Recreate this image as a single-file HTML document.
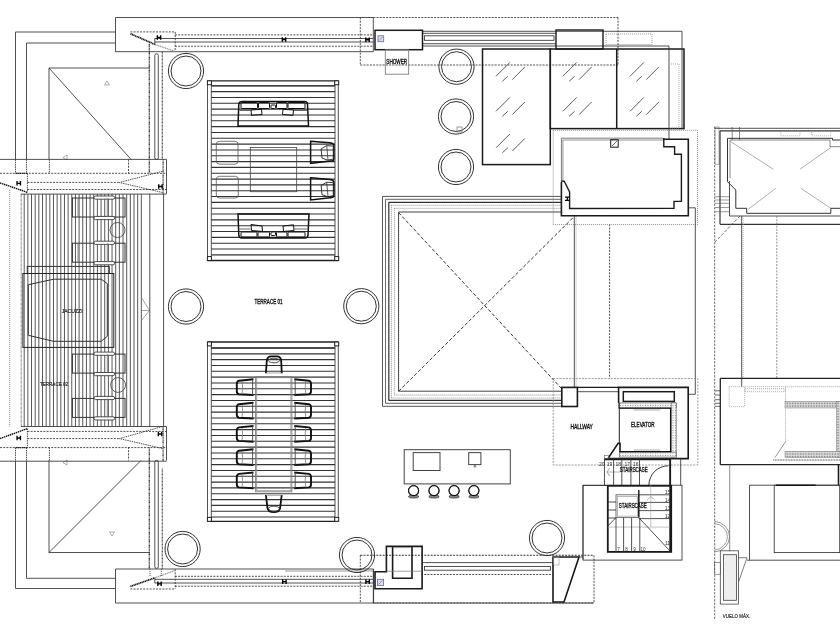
<!DOCTYPE html>
<html><head><meta charset="utf-8"><style>
html,body{margin:0;padding:0;background:#fff;}
svg{display:block;will-change:transform;}
text{font-family:"Liberation Sans",sans-serif;}
</style></head><body>
<svg width="840" height="630" viewBox="0 0 840 630">
<rect x="0" y="0" width="840" height="630" fill="#fff"/>
<polyline points="115.50,32.00 15.50,32.00 15.50,159.40" stroke="#333" stroke-width="0.85" fill="none" stroke-linejoin="miter"/>
<polyline points="115.50,43.00 26.50,43.00 26.50,159.40" stroke="#333" stroke-width="0.85" fill="none" stroke-linejoin="miter"/>
<polyline points="15.50,461.20 15.50,588.50 115.50,588.50" stroke="#333" stroke-width="0.85" fill="none" stroke-linejoin="miter"/>
<polyline points="26.50,461.20 26.50,578.30 115.50,578.30" stroke="#333" stroke-width="0.85" fill="none" stroke-linejoin="miter"/>
<line x1="115.50" y1="17.50" x2="373.30" y2="17.50" stroke="#333" stroke-width="0.85" />
<line x1="115.50" y1="51.70" x2="373.30" y2="51.70" stroke="#333" stroke-width="0.85" />
<line x1="115.50" y1="17.50" x2="115.50" y2="51.70" stroke="#333" stroke-width="0.85" />
<line x1="373.30" y1="17.50" x2="373.30" y2="51.70" stroke="#333" stroke-width="0.85" />
<line x1="373.30" y1="17.50" x2="618.00" y2="17.50" stroke="#333" stroke-width="0.85" stroke-dasharray="2,1.2" />
<line x1="360.30" y1="17.50" x2="360.30" y2="65.00" stroke="#333" stroke-width="0.85" stroke-dasharray="2,1.2" />
<line x1="360.30" y1="65.00" x2="618.00" y2="65.00" stroke="#333" stroke-width="0.85" stroke-dasharray="2,1.2" />
<line x1="618.00" y1="17.50" x2="618.00" y2="65.00" stroke="#333" stroke-width="0.85" stroke-dasharray="2,1.2" />
<line x1="175.00" y1="34.90" x2="373.00" y2="34.90" stroke="#333" stroke-width="0.85" stroke-dasharray="2,1.2" />
<line x1="154.80" y1="38.50" x2="373.00" y2="38.50" stroke="#333" stroke-width="0.85" />
<line x1="154.80" y1="42.00" x2="373.00" y2="42.00" stroke="#333" stroke-width="0.85" />
<line x1="175.00" y1="46.20" x2="373.00" y2="46.20" stroke="#333" stroke-width="0.85" stroke-dasharray="2,1.2" />
<line x1="130.40" y1="31.90" x2="175.20" y2="31.90" stroke="#333" stroke-width="0.85" stroke-dasharray="2,1.2" />
<line x1="175.20" y1="31.90" x2="175.20" y2="51.50" stroke="#333" stroke-width="0.85" stroke-dasharray="2,1.2" />
<line x1="130.40" y1="33.70" x2="154.80" y2="44.40" stroke="#111" stroke-width="1.7" stroke-dasharray="1.2,0.5" />
<line x1="154.80" y1="44.40" x2="175.20" y2="51.50" stroke="#999" stroke-width="1.4" stroke-dasharray="1.2,0.6" />
<line x1="154.80" y1="38.50" x2="154.80" y2="44.40" stroke="#333" stroke-width="0.85" />
<path d="M157.3,35.2 V39.8 M160.7,35.2 V39.8 M157.3,37.5 H160.7" stroke="#000" stroke-width="1.35" fill="none"/>
<path d="M282.3,37.2 V41.8 M285.7,37.2 V41.8 M282.3,39.5 H285.7" stroke="#000" stroke-width="1.35" fill="none"/>
<path d="M365.8,37.400000000000006 V42.0 M369.2,37.400000000000006 V42.0 M365.8,39.7 H369.2" stroke="#000" stroke-width="1.35" fill="none"/>
<line x1="115.50" y1="569.00" x2="373.30" y2="569.00" stroke="#333" stroke-width="0.85" />
<line x1="115.50" y1="603.00" x2="594.00" y2="603.00" stroke="#333" stroke-width="0.85" />
<line x1="115.50" y1="569.00" x2="115.50" y2="603.00" stroke="#333" stroke-width="0.85" />
<line x1="373.30" y1="569.00" x2="373.30" y2="603.00" stroke="#333" stroke-width="0.85" />
<line x1="285.00" y1="571.00" x2="373.00" y2="571.00" stroke="#888" stroke-width="0.85" />
<line x1="175.00" y1="576.30" x2="373.00" y2="576.30" stroke="#333" stroke-width="0.85" stroke-dasharray="2,1.2" />
<line x1="154.80" y1="579.30" x2="373.00" y2="579.30" stroke="#333" stroke-width="0.85" />
<line x1="154.80" y1="583.00" x2="373.00" y2="583.00" stroke="#333" stroke-width="0.85" />
<line x1="175.00" y1="586.20" x2="373.00" y2="586.20" stroke="#333" stroke-width="0.85" stroke-dasharray="2,1.2" />
<line x1="130.40" y1="589.00" x2="175.20" y2="589.00" stroke="#333" stroke-width="0.85" stroke-dasharray="2,1.2" />
<line x1="175.20" y1="569.20" x2="175.20" y2="589.00" stroke="#333" stroke-width="0.85" stroke-dasharray="2,1.2" />
<line x1="130.40" y1="586.40" x2="154.80" y2="577.90" stroke="#111" stroke-width="1.7" stroke-dasharray="1.2,0.5" />
<line x1="154.80" y1="577.90" x2="175.20" y2="570.40" stroke="#999" stroke-width="1.4" stroke-dasharray="1.2,0.6" />
<line x1="154.80" y1="577.90" x2="154.80" y2="583.00" stroke="#333" stroke-width="0.85" />
<line x1="150.00" y1="569.00" x2="150.00" y2="577.00" stroke="#333" stroke-width="0.85" stroke-dasharray="1,1" />
<line x1="161.30" y1="569.00" x2="161.30" y2="577.00" stroke="#333" stroke-width="0.85" stroke-dasharray="1,1" />
<path d="M157.8,581.5 V586.0999999999999 M161.2,581.5 V586.0999999999999 M157.8,583.8 H161.2" stroke="#000" stroke-width="1.35" fill="none"/>
<path d="M282.7,579.3000000000001 V583.9 M286.09999999999997,579.3000000000001 V583.9 M282.7,581.6 H286.09999999999997" stroke="#000" stroke-width="1.35" fill="none"/>
<path d="M365.90000000000003,579.3000000000001 V583.9 M369.3,579.3000000000001 V583.9 M365.90000000000003,581.6 H369.3" stroke="#000" stroke-width="1.35" fill="none"/>
<line x1="360.30" y1="555.30" x2="594.00" y2="555.30" stroke="#333" stroke-width="1.1" stroke-dasharray="2,1.2" />
<line x1="360.30" y1="555.30" x2="360.30" y2="603.00" stroke="#333" stroke-width="0.85" stroke-dasharray="2,1.2" />
<line x1="594.00" y1="555.30" x2="594.00" y2="603.00" stroke="#333" stroke-width="0.85" stroke-dasharray="2,1.2" />
<line x1="373.30" y1="603.00" x2="594.00" y2="603.00" stroke="#333" stroke-width="0.85" stroke-dasharray="2,1.2" />
<line x1="149.30" y1="44.00" x2="149.30" y2="159.40" stroke="#333" stroke-width="1.3" stroke-dasharray="0.9,0.4" />
<line x1="162.30" y1="52.00" x2="162.30" y2="159.40" stroke="#444" stroke-width="1.2" stroke-dasharray="0.9,0.5" />
<line x1="149.30" y1="460.50" x2="149.30" y2="569.00" stroke="#333" stroke-width="1.3" stroke-dasharray="0.9,0.4" />
<line x1="162.30" y1="468.50" x2="162.30" y2="569.00" stroke="#444" stroke-width="1.2" stroke-dasharray="0.9,0.5" />
<rect x="154.8" y="53.9" width="3.5" height="105.5" rx="1.5" stroke="#333" stroke-width="0.85" fill="none"/>
<rect x="154.8" y="460.5" width="3.5" height="107.8" rx="1.5" stroke="#333" stroke-width="0.85" fill="none"/>
<polyline points="49.00,68.00 150.00,68.00" stroke="#333" stroke-width="0.85" fill="none" stroke-linejoin="miter"/>
<line x1="49.00" y1="68.00" x2="49.00" y2="159.40" stroke="#333" stroke-width="0.85" />
<line x1="49.00" y1="68.00" x2="131.00" y2="159.40" stroke="#333" stroke-width="0.85" />
<polygon points="104.50,85.00 109.50,85.00 107.00,81.00" stroke="#777" stroke-width="0.6" fill="none" stroke-linejoin="miter"/>
<line x1="49.00" y1="460.50" x2="49.00" y2="552.50" stroke="#333" stroke-width="0.85" />
<line x1="49.00" y1="552.50" x2="150.00" y2="552.50" stroke="#333" stroke-width="0.85" />
<line x1="49.00" y1="552.50" x2="141.00" y2="460.50" stroke="#333" stroke-width="0.85" />
<polygon points="109.50,532.00 114.50,532.00 112.00,536.00" stroke="#777" stroke-width="0.6" fill="none" stroke-linejoin="miter"/>
<polygon points="67.00,155.00 67.00,160.00 63.00,157.50" stroke="#777" stroke-width="0.6" fill="none" stroke-linejoin="miter"/>
<polygon points="67.00,460.00 67.00,465.00 63.00,462.50" stroke="#777" stroke-width="0.6" fill="none" stroke-linejoin="miter"/>
<line x1="0.00" y1="159.40" x2="166.50" y2="159.40" stroke="#333" stroke-width="0.85" />
<line x1="0.00" y1="173.30" x2="166.50" y2="173.30" stroke="#333" stroke-width="0.85" stroke-dasharray="2,1.2" />
<line x1="27.40" y1="182.40" x2="118.80" y2="182.40" stroke="#333" stroke-width="0.85" stroke-dasharray="2,1.2" />
<line x1="27.40" y1="189.50" x2="166.50" y2="189.50" stroke="#333" stroke-width="0.85" stroke-dasharray="2,1.2" />
<line x1="20.80" y1="194.10" x2="166.50" y2="194.10" stroke="#333" stroke-width="0.85" />
<line x1="27.40" y1="173.30" x2="27.40" y2="192.40" stroke="#333" stroke-width="0.85" stroke-dasharray="1.5,0.8" />
<line x1="0.00" y1="182.90" x2="27.40" y2="192.40" stroke="#111" stroke-width="1.4" stroke-dasharray="1.5,0.6" />
<line x1="15.50" y1="173.30" x2="27.40" y2="173.30" stroke="#222" stroke-width="1.2" stroke-dasharray="1.5,0.6" />
<polyline points="162.50,171.30 119.40,182.50 162.50,192.50" stroke="#333" stroke-width="0.85" fill="none" stroke-dasharray="1.5,0.8" stroke-linejoin="miter"/>
<line x1="149.30" y1="159.40" x2="149.30" y2="173.30" stroke="#333" stroke-width="1.3" stroke-dasharray="0.9,0.4" />
<line x1="163.10" y1="159.40" x2="163.10" y2="194.10" stroke="#444" stroke-width="1.3" stroke-dasharray="0.9,0.4" />
<line x1="166.50" y1="159.40" x2="166.50" y2="193.75" stroke="#333" stroke-width="0.85" />
<line x1="15.50" y1="159.40" x2="15.50" y2="173.30" stroke="#333" stroke-width="0.85" stroke-dasharray="1.5,0.8" />
<line x1="26.50" y1="159.40" x2="26.50" y2="173.30" stroke="#333" stroke-width="0.85" stroke-dasharray="1.5,0.8" />
<line x1="49.40" y1="159.40" x2="49.40" y2="173.30" stroke="#333" stroke-width="0.85" stroke-dasharray="1.5,0.8" />
<line x1="128.50" y1="159.40" x2="128.50" y2="173.30" stroke="#333" stroke-width="0.85" stroke-dasharray="2,1.2" />
<path d="M17.05,181.0 V185.60000000000002 M20.45,181.0 V185.60000000000002 M17.05,183.3 H20.45" stroke="#000" stroke-width="1.35" fill="none"/>
<path d="M158.70000000000002,184.2 V188.8 M162.1,184.2 V188.8 M158.70000000000002,186.5 H162.1" stroke="#000" stroke-width="1.35" fill="none"/>
<line x1="20.80" y1="426.50" x2="166.50" y2="426.50" stroke="#333" stroke-width="0.85" />
<line x1="27.40" y1="431.40" x2="166.50" y2="431.40" stroke="#333" stroke-width="0.85" stroke-dasharray="2,1.2" />
<line x1="27.40" y1="438.60" x2="118.80" y2="438.60" stroke="#333" stroke-width="0.85" stroke-dasharray="2,1.2" />
<line x1="0.00" y1="447.60" x2="166.50" y2="447.60" stroke="#333" stroke-width="0.85" stroke-dasharray="2,1.2" />
<line x1="0.00" y1="461.20" x2="166.50" y2="461.20" stroke="#333" stroke-width="0.85" />
<line x1="27.40" y1="428.60" x2="27.40" y2="447.60" stroke="#333" stroke-width="0.85" stroke-dasharray="1.5,0.8" />
<line x1="0.00" y1="438.60" x2="27.40" y2="428.60" stroke="#111" stroke-width="1.4" stroke-dasharray="1.5,0.6" />
<line x1="15.50" y1="447.60" x2="27.40" y2="447.60" stroke="#222" stroke-width="1.2" stroke-dasharray="1.5,0.6" />
<polyline points="162.50,426.50 119.40,438.60 162.50,448.50" stroke="#333" stroke-width="0.85" fill="none" stroke-dasharray="1.5,0.8" stroke-linejoin="miter"/>
<line x1="149.30" y1="447.60" x2="149.30" y2="461.20" stroke="#333" stroke-width="1.3" stroke-dasharray="0.9,0.4" />
<line x1="163.10" y1="426.50" x2="163.10" y2="461.20" stroke="#444" stroke-width="1.3" stroke-dasharray="0.9,0.4" />
<line x1="166.50" y1="426.50" x2="166.50" y2="460.50" stroke="#333" stroke-width="0.85" />
<line x1="15.50" y1="447.60" x2="15.50" y2="461.20" stroke="#333" stroke-width="0.85" stroke-dasharray="1.5,0.8" />
<line x1="26.50" y1="447.60" x2="26.50" y2="461.20" stroke="#333" stroke-width="0.85" stroke-dasharray="1.5,0.8" />
<line x1="49.40" y1="447.60" x2="49.40" y2="461.20" stroke="#333" stroke-width="0.85" stroke-dasharray="1.5,0.8" />
<line x1="128.50" y1="447.00" x2="128.50" y2="460.50" stroke="#333" stroke-width="0.85" stroke-dasharray="2,1.2" />
<path d="M17.05,435.7 V440.3 M20.45,435.7 V440.3 M17.05,438 H20.45" stroke="#000" stroke-width="1.35" fill="none"/>
<path d="M158.3,431.7 V436.3 M161.7,431.7 V436.3 M158.3,434 H161.7" stroke="#000" stroke-width="1.35" fill="none"/>
<line x1="9.70" y1="190.00" x2="9.70" y2="426.50" stroke="#777" stroke-width="0.85" stroke-dasharray="1,1" />
<line x1="21.20" y1="193.75" x2="21.20" y2="426.50" stroke="#666" stroke-width="1.0" stroke-dasharray="0.8,0.5" />
<line x1="24.20" y1="194.10" x2="24.20" y2="426.50" stroke="#3a3a3a" stroke-width="0.85" />
<line x1="27.86" y1="194.10" x2="27.86" y2="426.50" stroke="#3a3a3a" stroke-width="0.85" />
<line x1="31.52" y1="194.10" x2="31.52" y2="426.50" stroke="#3a3a3a" stroke-width="0.85" />
<line x1="35.18" y1="194.10" x2="35.18" y2="426.50" stroke="#3a3a3a" stroke-width="0.85" />
<line x1="38.84" y1="194.10" x2="38.84" y2="426.50" stroke="#3a3a3a" stroke-width="0.85" />
<line x1="42.50" y1="194.10" x2="42.50" y2="426.50" stroke="#3a3a3a" stroke-width="0.85" />
<line x1="46.16" y1="194.10" x2="46.16" y2="426.50" stroke="#3a3a3a" stroke-width="0.85" />
<line x1="49.82" y1="194.10" x2="49.82" y2="426.50" stroke="#3a3a3a" stroke-width="0.85" />
<line x1="53.48" y1="194.10" x2="53.48" y2="426.50" stroke="#3a3a3a" stroke-width="0.85" />
<line x1="57.14" y1="194.10" x2="57.14" y2="426.50" stroke="#3a3a3a" stroke-width="0.85" />
<line x1="60.80" y1="194.10" x2="60.80" y2="426.50" stroke="#3a3a3a" stroke-width="0.85" />
<line x1="64.46" y1="194.10" x2="64.46" y2="426.50" stroke="#3a3a3a" stroke-width="0.85" />
<line x1="68.12" y1="194.10" x2="68.12" y2="426.50" stroke="#3a3a3a" stroke-width="0.85" />
<line x1="71.78" y1="194.10" x2="71.78" y2="426.50" stroke="#3a3a3a" stroke-width="0.85" />
<line x1="75.44" y1="194.10" x2="75.44" y2="426.50" stroke="#3a3a3a" stroke-width="0.85" />
<line x1="79.10" y1="194.10" x2="79.10" y2="426.50" stroke="#3a3a3a" stroke-width="0.85" />
<line x1="82.76" y1="194.10" x2="82.76" y2="426.50" stroke="#3a3a3a" stroke-width="0.85" />
<line x1="86.42" y1="194.10" x2="86.42" y2="426.50" stroke="#3a3a3a" stroke-width="0.85" />
<line x1="90.08" y1="194.10" x2="90.08" y2="426.50" stroke="#3a3a3a" stroke-width="0.85" />
<line x1="93.74" y1="194.10" x2="93.74" y2="426.50" stroke="#3a3a3a" stroke-width="0.85" />
<line x1="97.40" y1="194.10" x2="97.40" y2="426.50" stroke="#3a3a3a" stroke-width="0.85" />
<line x1="101.06" y1="194.10" x2="101.06" y2="426.50" stroke="#3a3a3a" stroke-width="0.85" />
<line x1="104.72" y1="194.10" x2="104.72" y2="426.50" stroke="#3a3a3a" stroke-width="0.85" />
<line x1="108.38" y1="194.10" x2="108.38" y2="426.50" stroke="#3a3a3a" stroke-width="0.85" />
<line x1="112.04" y1="194.10" x2="112.04" y2="426.50" stroke="#3a3a3a" stroke-width="0.85" />
<line x1="115.70" y1="194.10" x2="115.70" y2="426.50" stroke="#3a3a3a" stroke-width="0.85" />
<line x1="119.36" y1="194.10" x2="119.36" y2="426.50" stroke="#3a3a3a" stroke-width="0.85" />
<line x1="123.02" y1="194.10" x2="123.02" y2="426.50" stroke="#3a3a3a" stroke-width="0.85" />
<line x1="126.68" y1="194.10" x2="126.68" y2="426.50" stroke="#3a3a3a" stroke-width="0.85" />
<line x1="130.34" y1="194.10" x2="130.34" y2="426.50" stroke="#3a3a3a" stroke-width="0.85" />
<line x1="134.00" y1="194.10" x2="134.00" y2="426.50" stroke="#3a3a3a" stroke-width="0.85" />
<line x1="137.66" y1="194.10" x2="137.66" y2="426.50" stroke="#3a3a3a" stroke-width="0.85" />
<line x1="141.32" y1="194.10" x2="141.32" y2="426.50" stroke="#3a3a3a" stroke-width="0.85" />
<line x1="149.80" y1="193.75" x2="149.80" y2="426.50" stroke="#333" stroke-width="0.85" />
<line x1="163.60" y1="193.75" x2="163.60" y2="426.50" stroke="#333" stroke-width="0.85" />
<polyline points="141.50,297.50 149.50,310.50 141.50,320.50" stroke="#666" stroke-width="0.6" fill="none" stroke-linejoin="miter"/>
<line x1="141.50" y1="310.50" x2="149.50" y2="310.50" stroke="#666" stroke-width="0.6" />
<rect x="72.40" y="198.00" width="52.60" height="19.00" stroke="#333" stroke-width="1.0" fill="none"/>
<rect x="94.00" y="196.00" width="20.60" height="3.20" stroke="#333" stroke-width="0.85" fill="#fff" rx="1.5"/>
<rect x="94.00" y="216.40" width="20.60" height="3.20" stroke="#333" stroke-width="0.85" fill="#fff" rx="1.5"/>
<line x1="78.00" y1="198.00" x2="78.00" y2="217.00" stroke="#777" stroke-width="0.85" />
<line x1="107.30" y1="198.00" x2="107.30" y2="217.00" stroke="#777" stroke-width="0.85" />
<rect x="72.40" y="243.20" width="52.60" height="19.00" stroke="#333" stroke-width="1.0" fill="none"/>
<rect x="94.00" y="241.20" width="20.60" height="3.20" stroke="#333" stroke-width="0.85" fill="#fff" rx="1.5"/>
<rect x="94.00" y="261.60" width="20.60" height="3.20" stroke="#333" stroke-width="0.85" fill="#fff" rx="1.5"/>
<line x1="78.00" y1="243.20" x2="78.00" y2="262.20" stroke="#777" stroke-width="0.85" />
<line x1="107.30" y1="243.20" x2="107.30" y2="262.20" stroke="#777" stroke-width="0.85" />
<rect x="72.40" y="354.10" width="52.60" height="19.00" stroke="#333" stroke-width="1.0" fill="none"/>
<rect x="94.00" y="352.10" width="20.60" height="3.20" stroke="#333" stroke-width="0.85" fill="#fff" rx="1.5"/>
<rect x="94.00" y="372.50" width="20.60" height="3.20" stroke="#333" stroke-width="0.85" fill="#fff" rx="1.5"/>
<line x1="78.00" y1="354.10" x2="78.00" y2="373.10" stroke="#777" stroke-width="0.85" />
<line x1="107.30" y1="354.10" x2="107.30" y2="373.10" stroke="#777" stroke-width="0.85" />
<rect x="72.40" y="398.40" width="52.60" height="19.00" stroke="#333" stroke-width="1.0" fill="none"/>
<rect x="94.00" y="396.40" width="20.60" height="3.20" stroke="#333" stroke-width="0.85" fill="#fff" rx="1.5"/>
<rect x="94.00" y="416.80" width="20.60" height="3.20" stroke="#333" stroke-width="0.85" fill="#fff" rx="1.5"/>
<line x1="78.00" y1="398.40" x2="78.00" y2="417.40" stroke="#777" stroke-width="0.85" />
<line x1="107.30" y1="398.40" x2="107.30" y2="417.40" stroke="#777" stroke-width="0.85" />
<circle cx="117.50" cy="230.00" r="7.50" stroke="#444" stroke-width="0.85" fill="none"/>
<circle cx="118.10" cy="385.00" r="7.40" stroke="#444" stroke-width="0.85" fill="none"/>
<rect x="27.30" y="266.40" width="82.00" height="7.10" stroke="#333" stroke-width="1.0" fill="none"/>
<rect x="22.90" y="273.50" width="90.90" height="73.90" stroke="#222" stroke-width="1.0" fill="none"/>
<polygon points="28.30,284.70 53.60,279.20 101.20,279.20 107.30,283.60 107.30,336.30 101.20,341.30 53.60,341.30 28.30,335.30" stroke="#333" stroke-width="1.0" fill="none" stroke-linejoin="miter"/>
<text x="61.70" y="313.20" font-size="6.0" fill="#222" stroke="#222" stroke-width="0.18" textLength="20.90" lengthAdjust="spacingAndGlyphs">JACUZZI</text>
<text x="40.00" y="385.60" font-size="6.0" fill="#222" stroke="#222" stroke-width="0.18" textLength="28.00" lengthAdjust="spacingAndGlyphs">TERRACE 02</text>
<circle cx="186.00" cy="71.00" r="17.60" stroke="#333" stroke-width="1.0" fill="none"/>
<circle cx="186.00" cy="71.00" r="15.00" stroke="#333" stroke-width="1.0" fill="none"/>
<circle cx="182.60" cy="549.00" r="17.60" stroke="#333" stroke-width="1.0" fill="none"/>
<circle cx="182.60" cy="549.00" r="15.00" stroke="#333" stroke-width="1.0" fill="none"/>
<circle cx="456.50" cy="66.70" r="17.60" stroke="#333" stroke-width="1.0" fill="none"/>
<circle cx="456.50" cy="66.70" r="15.00" stroke="#333" stroke-width="1.0" fill="none"/>
<circle cx="456.00" cy="116.50" r="17.60" stroke="#333" stroke-width="1.0" fill="none"/>
<circle cx="456.00" cy="116.50" r="15.00" stroke="#333" stroke-width="1.0" fill="none"/>
<circle cx="456.00" cy="167.00" r="17.60" stroke="#333" stroke-width="1.0" fill="none"/>
<circle cx="456.00" cy="167.00" r="15.00" stroke="#333" stroke-width="1.0" fill="none"/>
<circle cx="186.00" cy="306.50" r="17.60" stroke="#333" stroke-width="1.0" fill="none"/>
<circle cx="186.00" cy="306.50" r="15.00" stroke="#333" stroke-width="1.0" fill="none"/>
<circle cx="361.30" cy="306.20" r="17.60" stroke="#333" stroke-width="1.0" fill="none"/>
<circle cx="361.30" cy="306.20" r="15.00" stroke="#333" stroke-width="1.0" fill="none"/>
<circle cx="357.00" cy="555.00" r="17.60" stroke="#333" stroke-width="1.0" fill="none"/>
<circle cx="357.00" cy="555.00" r="15.00" stroke="#333" stroke-width="1.0" fill="none"/>
<circle cx="547.00" cy="538.00" r="17.60" stroke="#333" stroke-width="1.0" fill="none"/>
<circle cx="547.00" cy="538.00" r="15.00" stroke="#333" stroke-width="1.0" fill="none"/>
<line x1="207.50" y1="80.80" x2="207.50" y2="260.50" stroke="#333" stroke-width="0.85" />
<line x1="211.30" y1="80.80" x2="211.30" y2="260.50" stroke="#333" stroke-width="0.85" />
<line x1="335.00" y1="80.80" x2="335.00" y2="260.50" stroke="#333" stroke-width="0.85" />
<line x1="338.30" y1="80.80" x2="338.30" y2="260.50" stroke="#333" stroke-width="0.85" />
<line x1="207.50" y1="80.80" x2="338.30" y2="80.80" stroke="#222" stroke-width="1.3" />
<line x1="207.50" y1="260.50" x2="338.30" y2="260.50" stroke="#222" stroke-width="1.3" />
<line x1="211.30" y1="85.80" x2="335.00" y2="85.80" stroke="#333" stroke-width="1.1" />
<line x1="211.30" y1="91.63" x2="335.00" y2="91.63" stroke="#333" stroke-width="1.1" />
<line x1="211.30" y1="97.46" x2="335.00" y2="97.46" stroke="#333" stroke-width="1.1" />
<line x1="211.30" y1="103.29" x2="335.00" y2="103.29" stroke="#333" stroke-width="1.1" />
<line x1="211.30" y1="109.12" x2="335.00" y2="109.12" stroke="#333" stroke-width="1.1" />
<line x1="211.30" y1="114.95" x2="335.00" y2="114.95" stroke="#333" stroke-width="1.1" />
<line x1="211.30" y1="120.78" x2="335.00" y2="120.78" stroke="#333" stroke-width="1.1" />
<line x1="211.30" y1="126.61" x2="335.00" y2="126.61" stroke="#333" stroke-width="1.1" />
<line x1="211.30" y1="132.44" x2="335.00" y2="132.44" stroke="#333" stroke-width="1.1" />
<line x1="211.30" y1="138.27" x2="335.00" y2="138.27" stroke="#333" stroke-width="1.1" />
<line x1="211.30" y1="144.10" x2="335.00" y2="144.10" stroke="#333" stroke-width="1.1" />
<line x1="211.30" y1="149.93" x2="335.00" y2="149.93" stroke="#333" stroke-width="1.1" />
<line x1="211.30" y1="155.76" x2="335.00" y2="155.76" stroke="#333" stroke-width="1.1" />
<line x1="211.30" y1="161.59" x2="335.00" y2="161.59" stroke="#333" stroke-width="1.1" />
<line x1="211.30" y1="167.42" x2="335.00" y2="167.42" stroke="#333" stroke-width="1.1" />
<line x1="211.30" y1="173.25" x2="335.00" y2="173.25" stroke="#333" stroke-width="1.1" />
<line x1="211.30" y1="179.08" x2="335.00" y2="179.08" stroke="#333" stroke-width="1.1" />
<line x1="211.30" y1="184.91" x2="335.00" y2="184.91" stroke="#333" stroke-width="1.1" />
<line x1="211.30" y1="190.74" x2="335.00" y2="190.74" stroke="#333" stroke-width="1.1" />
<line x1="211.30" y1="196.57" x2="335.00" y2="196.57" stroke="#333" stroke-width="1.1" />
<line x1="211.30" y1="202.40" x2="335.00" y2="202.40" stroke="#333" stroke-width="1.1" />
<line x1="211.30" y1="208.23" x2="335.00" y2="208.23" stroke="#333" stroke-width="1.1" />
<line x1="211.30" y1="214.06" x2="335.00" y2="214.06" stroke="#333" stroke-width="1.1" />
<line x1="211.30" y1="219.89" x2="335.00" y2="219.89" stroke="#333" stroke-width="1.1" />
<line x1="211.30" y1="225.72" x2="335.00" y2="225.72" stroke="#333" stroke-width="1.1" />
<line x1="211.30" y1="231.55" x2="335.00" y2="231.55" stroke="#333" stroke-width="1.1" />
<line x1="211.30" y1="237.38" x2="335.00" y2="237.38" stroke="#333" stroke-width="1.1" />
<line x1="211.30" y1="243.21" x2="335.00" y2="243.21" stroke="#333" stroke-width="1.1" />
<line x1="211.30" y1="249.04" x2="335.00" y2="249.04" stroke="#333" stroke-width="1.1" />
<line x1="211.30" y1="254.87" x2="335.00" y2="254.87" stroke="#333" stroke-width="1.1" />
<line x1="211.30" y1="85.80" x2="335.00" y2="85.80" stroke="#333" stroke-width="1.3" />
<rect x="207.40" y="80.80" width="4.00" height="3.90" stroke="#222" stroke-width="1.0" fill="#fff"/>
<rect x="207.40" y="256.60" width="4.00" height="3.90" stroke="#222" stroke-width="1.0" fill="#fff"/>
<rect x="334.70" y="80.80" width="4.00" height="3.90" stroke="#222" stroke-width="1.0" fill="#fff"/>
<rect x="334.70" y="256.60" width="4.00" height="3.90" stroke="#222" stroke-width="1.0" fill="#fff"/>
<line x1="207.50" y1="342.00" x2="207.50" y2="521.30" stroke="#333" stroke-width="0.85" />
<line x1="211.30" y1="342.00" x2="211.30" y2="521.30" stroke="#333" stroke-width="0.85" />
<line x1="335.00" y1="342.00" x2="335.00" y2="521.30" stroke="#333" stroke-width="0.85" />
<line x1="338.30" y1="342.00" x2="338.30" y2="521.30" stroke="#333" stroke-width="0.85" />
<line x1="207.50" y1="342.00" x2="338.30" y2="342.00" stroke="#222" stroke-width="1.3" />
<line x1="207.50" y1="521.30" x2="338.30" y2="521.30" stroke="#222" stroke-width="1.3" />
<line x1="211.30" y1="348.00" x2="335.00" y2="348.00" stroke="#333" stroke-width="1.1" />
<line x1="211.30" y1="353.83" x2="335.00" y2="353.83" stroke="#333" stroke-width="1.1" />
<line x1="211.30" y1="359.66" x2="335.00" y2="359.66" stroke="#333" stroke-width="1.1" />
<line x1="211.30" y1="365.49" x2="335.00" y2="365.49" stroke="#333" stroke-width="1.1" />
<line x1="211.30" y1="371.32" x2="335.00" y2="371.32" stroke="#333" stroke-width="1.1" />
<line x1="211.30" y1="377.15" x2="335.00" y2="377.15" stroke="#333" stroke-width="1.1" />
<line x1="211.30" y1="382.98" x2="335.00" y2="382.98" stroke="#333" stroke-width="1.1" />
<line x1="211.30" y1="388.81" x2="335.00" y2="388.81" stroke="#333" stroke-width="1.1" />
<line x1="211.30" y1="394.64" x2="335.00" y2="394.64" stroke="#333" stroke-width="1.1" />
<line x1="211.30" y1="400.47" x2="335.00" y2="400.47" stroke="#333" stroke-width="1.1" />
<line x1="211.30" y1="406.30" x2="335.00" y2="406.30" stroke="#333" stroke-width="1.1" />
<line x1="211.30" y1="412.13" x2="335.00" y2="412.13" stroke="#333" stroke-width="1.1" />
<line x1="211.30" y1="417.96" x2="335.00" y2="417.96" stroke="#333" stroke-width="1.1" />
<line x1="211.30" y1="423.79" x2="335.00" y2="423.79" stroke="#333" stroke-width="1.1" />
<line x1="211.30" y1="429.62" x2="335.00" y2="429.62" stroke="#333" stroke-width="1.1" />
<line x1="211.30" y1="435.45" x2="335.00" y2="435.45" stroke="#333" stroke-width="1.1" />
<line x1="211.30" y1="441.28" x2="335.00" y2="441.28" stroke="#333" stroke-width="1.1" />
<line x1="211.30" y1="447.11" x2="335.00" y2="447.11" stroke="#333" stroke-width="1.1" />
<line x1="211.30" y1="452.94" x2="335.00" y2="452.94" stroke="#333" stroke-width="1.1" />
<line x1="211.30" y1="458.77" x2="335.00" y2="458.77" stroke="#333" stroke-width="1.1" />
<line x1="211.30" y1="464.60" x2="335.00" y2="464.60" stroke="#333" stroke-width="1.1" />
<line x1="211.30" y1="470.43" x2="335.00" y2="470.43" stroke="#333" stroke-width="1.1" />
<line x1="211.30" y1="476.26" x2="335.00" y2="476.26" stroke="#333" stroke-width="1.1" />
<line x1="211.30" y1="482.09" x2="335.00" y2="482.09" stroke="#333" stroke-width="1.1" />
<line x1="211.30" y1="487.92" x2="335.00" y2="487.92" stroke="#333" stroke-width="1.1" />
<line x1="211.30" y1="493.75" x2="335.00" y2="493.75" stroke="#333" stroke-width="1.1" />
<line x1="211.30" y1="499.58" x2="335.00" y2="499.58" stroke="#333" stroke-width="1.1" />
<line x1="211.30" y1="505.41" x2="335.00" y2="505.41" stroke="#333" stroke-width="1.1" />
<line x1="211.30" y1="511.24" x2="335.00" y2="511.24" stroke="#333" stroke-width="1.1" />
<line x1="211.30" y1="517.07" x2="335.00" y2="517.07" stroke="#333" stroke-width="1.1" />
<line x1="211.30" y1="348.00" x2="335.00" y2="348.00" stroke="#333" stroke-width="1.3" />
<rect x="207.40" y="342.00" width="4.00" height="3.90" stroke="#222" stroke-width="1.0" fill="#fff"/>
<rect x="207.40" y="517.40" width="4.00" height="3.90" stroke="#222" stroke-width="1.0" fill="#fff"/>
<rect x="334.70" y="342.00" width="4.00" height="3.90" stroke="#222" stroke-width="1.0" fill="#fff"/>
<rect x="334.70" y="517.40" width="4.00" height="3.90" stroke="#222" stroke-width="1.0" fill="#fff"/>
<path d="M238,126 L238.8,104 Q239.3,101.5 242,101.5 L304.5,101.5 Q307.2,101.5 307.5,104 L308.5,126 Z" stroke="#111" stroke-width="1.5" fill="none"/>
<rect x="241.00" y="102.50" width="16.50" height="6.00" stroke="#111" stroke-width="1.0" fill="none" rx="0.8"/>
<rect x="258.50" y="102.50" width="11.00" height="6.00" stroke="#111" stroke-width="1.0" fill="none" rx="0.8"/>
<rect x="271.00" y="105.00" width="4.50" height="3.50" stroke="#111" stroke-width="1.0" fill="none" rx="0.8"/>
<rect x="276.50" y="102.50" width="10.50" height="6.00" stroke="#111" stroke-width="1.0" fill="none" rx="0.8"/>
<rect x="288.00" y="102.50" width="17.00" height="6.00" stroke="#111" stroke-width="1.0" fill="none" rx="0.8"/>
<path d="M251,110 L261.5,109.3 L262,114.5 L251.5,115.3 Z" stroke="#111" stroke-width="1.0" fill="none"/>
<path d="M283,109.3 L293.5,110 L293,115.3 L282.5,114.5 Z" stroke="#111" stroke-width="1.0" fill="none"/>
<line x1="239.50" y1="110.50" x2="251.00" y2="110.50" stroke="#444" stroke-width="0.8" />
<line x1="294.00" y1="110.50" x2="307.50" y2="110.50" stroke="#444" stroke-width="0.8" />
<path d="M238,214 L309,214 L308,235 Q307.7,238 305,238 L241.5,238 Q239,238 238.8,235 Z" stroke="#111" stroke-width="1.5" fill="none"/>
<rect x="241.00" y="232.00" width="16.00" height="5.00" stroke="#111" stroke-width="1.0" fill="none" rx="0.8"/>
<rect x="258.00" y="232.00" width="11.50" height="5.00" stroke="#111" stroke-width="1.0" fill="none" rx="0.8"/>
<rect x="271.00" y="232.00" width="4.50" height="3.50" stroke="#111" stroke-width="1.0" fill="none" rx="0.8"/>
<rect x="276.50" y="232.00" width="10.50" height="5.00" stroke="#111" stroke-width="1.0" fill="none" rx="0.8"/>
<rect x="288.00" y="232.00" width="17.00" height="5.00" stroke="#111" stroke-width="1.0" fill="none" rx="0.8"/>
<path d="M251,224.5 L262,226 L262.5,231.5 L251.5,230.5 Z" stroke="#111" stroke-width="1.0" fill="none"/>
<path d="M283,226 L293.5,224.8 L294,230.5 L283.5,231.5 Z" stroke="#111" stroke-width="1.0" fill="none"/>
<line x1="239.50" y1="229.00" x2="250.50" y2="229.00" stroke="#444" stroke-width="0.8" />
<line x1="294.50" y1="229.00" x2="307.50" y2="229.00" stroke="#444" stroke-width="0.8" />
<rect x="216.30" y="141.30" width="21.70" height="22.90" stroke="#555" stroke-width="0.8" fill="none" rx="3"/>
<rect x="216.30" y="176.30" width="22.00" height="21.70" stroke="#555" stroke-width="0.8" fill="none" rx="3"/>
<rect x="250.30" y="147.50" width="46.40" height="44.20" stroke="#444" stroke-width="0.8" fill="none"/>
<path d="M310.6,141.2 L330,142.79999999999998 Q333.9,143.6 333.9,145.6 L333.9,158.9 Q333.9,161.1 330,161.1 L310.6,163.29999999999998 Z" stroke="#111" stroke-width="1.5" fill="none"/>
<path d="M321.1,148.9 L326.7,145.6 L333.3,146.1 L333.3,159.1 L327.5,160.1 L322,158.1 Z" stroke="#222" stroke-width="0.9" fill="none"/>
<line x1="326.70" y1="145.60" x2="328.00" y2="160.10" stroke="#333" stroke-width="0.8" />
<path d="M310.6,177.79999999999998 L330,179.39999999999998 Q333.9,180.2 333.9,182.2 L333.9,195.5 Q333.9,197.7 330,197.7 L310.6,199.89999999999998 Z" stroke="#111" stroke-width="1.5" fill="none"/>
<path d="M321.1,185.5 L326.7,182.2 L333.3,182.7 L333.3,195.7 L327.5,196.7 L322,194.7 Z" stroke="#222" stroke-width="0.9" fill="none"/>
<line x1="326.70" y1="182.20" x2="328.00" y2="196.70" stroke="#333" stroke-width="0.8" />
<rect x="255.60" y="376.70" width="36.30" height="115.10" stroke="#777" stroke-width="0.8" fill="none"/>
<rect x="256.70" y="377.70" width="34.20" height="113.10" stroke="#888" stroke-width="0.8" fill="none"/>
<path d="M253.5,379.3 L239.0,380.7 Q236.8,381.3 236.8,383.8 L236.8,391.3 Q236.8,393.8 239.0,394.2 L253.5,395.0" stroke="#111" stroke-width="1.9" fill="none"/>
<line x1="252.60" y1="379.60" x2="252.60" y2="394.80" stroke="#444" stroke-width="0.9" />
<path d="M242.10000000000002,381.3 Q243.10000000000002,387.1 242.10000000000002,393.3" stroke="#777" stroke-width="0.8" fill="none"/>
<path d="M294.3,379.3 L308.8,380.7 Q311,381.3 311,383.8 L311,391.3 Q311,393.8 308.8,394.2 L294.3,395.0" stroke="#111" stroke-width="1.9" fill="none"/>
<line x1="295.20" y1="379.60" x2="295.20" y2="394.80" stroke="#444" stroke-width="0.9" />
<path d="M305.7,381.3 Q304.7,387.1 305.7,393.3" stroke="#777" stroke-width="0.8" fill="none"/>
<path d="M253.5,402.8 L239.0,404.2 Q236.8,404.8 236.8,407.3 L236.8,414.8 Q236.8,417.3 239.0,417.7 L253.5,418.5" stroke="#111" stroke-width="1.9" fill="none"/>
<line x1="252.60" y1="403.10" x2="252.60" y2="418.30" stroke="#444" stroke-width="0.9" />
<path d="M242.10000000000002,404.8 Q243.10000000000002,410.6 242.10000000000002,416.8" stroke="#777" stroke-width="0.8" fill="none"/>
<path d="M294.3,402.8 L308.8,404.2 Q311,404.8 311,407.3 L311,414.8 Q311,417.3 308.8,417.7 L294.3,418.5" stroke="#111" stroke-width="1.9" fill="none"/>
<line x1="295.20" y1="403.10" x2="295.20" y2="418.30" stroke="#444" stroke-width="0.9" />
<path d="M305.7,404.8 Q304.7,410.6 305.7,416.8" stroke="#777" stroke-width="0.8" fill="none"/>
<path d="M253.5,426 L239.0,427.4 Q236.8,428 236.8,430.5 L236.8,438 Q236.8,440.5 239.0,440.9 L253.5,441.7" stroke="#111" stroke-width="1.9" fill="none"/>
<line x1="252.60" y1="426.30" x2="252.60" y2="441.50" stroke="#444" stroke-width="0.9" />
<path d="M242.10000000000002,428 Q243.10000000000002,433.8 242.10000000000002,440" stroke="#777" stroke-width="0.8" fill="none"/>
<path d="M294.3,426 L308.8,427.4 Q311,428 311,430.5 L311,438 Q311,440.5 308.8,440.9 L294.3,441.7" stroke="#111" stroke-width="1.9" fill="none"/>
<line x1="295.20" y1="426.30" x2="295.20" y2="441.50" stroke="#444" stroke-width="0.9" />
<path d="M305.7,428 Q304.7,433.8 305.7,440" stroke="#777" stroke-width="0.8" fill="none"/>
<path d="M253.5,449.3 L239.0,450.7 Q236.8,451.3 236.8,453.8 L236.8,461.3 Q236.8,463.8 239.0,464.2 L253.5,465.0" stroke="#111" stroke-width="1.9" fill="none"/>
<line x1="252.60" y1="449.60" x2="252.60" y2="464.80" stroke="#444" stroke-width="0.9" />
<path d="M242.10000000000002,451.3 Q243.10000000000002,457.1 242.10000000000002,463.3" stroke="#777" stroke-width="0.8" fill="none"/>
<path d="M294.3,449.3 L308.8,450.7 Q311,451.3 311,453.8 L311,461.3 Q311,463.8 308.8,464.2 L294.3,465.0" stroke="#111" stroke-width="1.9" fill="none"/>
<line x1="295.20" y1="449.60" x2="295.20" y2="464.80" stroke="#444" stroke-width="0.9" />
<path d="M305.7,451.3 Q304.7,457.1 305.7,463.3" stroke="#777" stroke-width="0.8" fill="none"/>
<path d="M253.5,472.5 L239.0,473.9 Q236.8,474.5 236.8,477.0 L236.8,484.5 Q236.8,487.0 239.0,487.4 L253.5,488.2" stroke="#111" stroke-width="1.9" fill="none"/>
<line x1="252.60" y1="472.80" x2="252.60" y2="488.00" stroke="#444" stroke-width="0.9" />
<path d="M242.10000000000002,474.5 Q243.10000000000002,480.3 242.10000000000002,486.5" stroke="#777" stroke-width="0.8" fill="none"/>
<path d="M294.3,472.5 L308.8,473.9 Q311,474.5 311,477.0 L311,484.5 Q311,487.0 308.8,487.4 L294.3,488.2" stroke="#111" stroke-width="1.9" fill="none"/>
<line x1="295.20" y1="472.80" x2="295.20" y2="488.00" stroke="#444" stroke-width="0.9" />
<path d="M305.7,474.5 Q304.7,480.3 305.7,486.5" stroke="#777" stroke-width="0.8" fill="none"/>
<path d="M265.9,373.3 L266.8,361.1 Q267.2,356.4 271,356.4 L277,356.4 Q280.9,356.4 281.2,361.1 L281.8,373.3" stroke="#111" stroke-width="1.8" fill="none"/>
<ellipse cx="274" cy="360.5" rx="5.5" ry="2.3" fill="none" stroke="#444" stroke-width="0.9"/>
<line x1="266.00" y1="373.00" x2="281.80" y2="373.00" stroke="#888" stroke-width="0.7" />
<path d="M265.9,495 L267.5,508 Q268.3,512.2 273.8,512.2 Q279.3,512.2 280.1,508 L281.7,495" stroke="#111" stroke-width="1.8" fill="none"/>
<ellipse cx="274" cy="508.7" rx="5.5" ry="2.5" fill="none" stroke="#444" stroke-width="0.9"/>
<line x1="266.00" y1="495.40" x2="281.70" y2="495.40" stroke="#888" stroke-width="0.7" />
<text x="254.50" y="303.50" font-size="6.3" fill="#111" stroke="#111" stroke-width="0.32" textLength="28.00" lengthAdjust="spacingAndGlyphs">TERRACE 01</text>
<line x1="382.50" y1="196.40" x2="382.50" y2="406.30" stroke="#444" stroke-width="0.9" />
<line x1="382.50" y1="196.40" x2="561.50" y2="196.40" stroke="#444" stroke-width="0.9" />
<line x1="382.50" y1="406.30" x2="561.50" y2="406.30" stroke="#444" stroke-width="0.9" />
<line x1="385.50" y1="199.30" x2="385.50" y2="403.30" stroke="#555" stroke-width="0.9" />
<line x1="385.50" y1="199.30" x2="561.50" y2="199.30" stroke="#555" stroke-width="0.9" />
<line x1="385.50" y1="403.30" x2="561.50" y2="403.30" stroke="#555" stroke-width="0.9" />
<line x1="388.80" y1="202.30" x2="388.80" y2="400.40" stroke="#333" stroke-width="1.2" />
<line x1="388.80" y1="202.30" x2="561.50" y2="202.30" stroke="#333" stroke-width="1.2" />
<line x1="388.80" y1="400.40" x2="561.50" y2="400.40" stroke="#333" stroke-width="1.2" />
<line x1="391.40" y1="205.30" x2="391.40" y2="398.00" stroke="#777" stroke-width="0.8" stroke-dasharray="1,1" />
<line x1="391.40" y1="205.30" x2="561.50" y2="205.30" stroke="#777" stroke-width="0.8" stroke-dasharray="1,1" />
<line x1="391.40" y1="398.00" x2="561.50" y2="398.00" stroke="#777" stroke-width="0.8" stroke-dasharray="1,1" />
<line x1="394.40" y1="208.30" x2="394.40" y2="395.00" stroke="#777" stroke-width="0.8" stroke-dasharray="1,1" />
<line x1="394.40" y1="208.30" x2="561.50" y2="208.30" stroke="#777" stroke-width="0.8" stroke-dasharray="1,1" />
<line x1="394.40" y1="395.00" x2="561.50" y2="395.00" stroke="#777" stroke-width="0.8" stroke-dasharray="1,1" />
<line x1="398.60" y1="212.00" x2="398.60" y2="391.20" stroke="#444" stroke-width="1.0" />
<line x1="398.60" y1="212.00" x2="561.50" y2="212.00" stroke="#444" stroke-width="1.0" />
<line x1="398.60" y1="391.20" x2="561.50" y2="391.20" stroke="#444" stroke-width="1.0" />
<line x1="398.60" y1="212.60" x2="561.50" y2="388.50" stroke="#333" stroke-width="1.0" stroke-dasharray="3.5,2" />
<line x1="398.60" y1="391.20" x2="574.30" y2="216.40" stroke="#333" stroke-width="1.0" stroke-dasharray="3.5,2" />
<line x1="574.30" y1="216.40" x2="574.30" y2="387.40" stroke="#333" stroke-width="0.85" />
<line x1="576.00" y1="216.40" x2="576.00" y2="387.40" stroke="#999" stroke-width="0.85" stroke-dasharray="1,1" />
<line x1="609.60" y1="224.30" x2="609.60" y2="378.60" stroke="#333" stroke-width="0.85" stroke-dasharray="2,1.2" />
<rect x="482.50" y="49.00" width="67.80" height="115.60" stroke="#1a1a1a" stroke-width="1.5" fill="none"/>
<rect x="550.30" y="49.00" width="133.70" height="79.60" stroke="#1a1a1a" stroke-width="1.5" fill="none"/>
<line x1="616.70" y1="49.00" x2="616.70" y2="128.60" stroke="#1a1a1a" stroke-width="1.5" />
<line x1="496.00" y1="76.30" x2="509.80" y2="62.50" stroke="#333" stroke-width="0.8" />
<line x1="502.30" y1="81.30" x2="507.80" y2="76.30" stroke="#333" stroke-width="0.8" />
<line x1="512.30" y1="79.60" x2="524.80" y2="67.00" stroke="#333" stroke-width="0.8" />
<line x1="496.00" y1="111.30" x2="509.80" y2="97.50" stroke="#333" stroke-width="0.8" />
<line x1="502.30" y1="116.30" x2="507.80" y2="111.30" stroke="#333" stroke-width="0.8" />
<line x1="512.30" y1="114.60" x2="524.80" y2="102.00" stroke="#333" stroke-width="0.8" />
<line x1="562.80" y1="76.30" x2="576.60" y2="62.50" stroke="#333" stroke-width="0.8" />
<line x1="569.10" y1="81.30" x2="574.60" y2="76.30" stroke="#333" stroke-width="0.8" />
<line x1="579.10" y1="79.60" x2="591.60" y2="67.00" stroke="#333" stroke-width="0.8" />
<line x1="562.80" y1="111.30" x2="576.60" y2="97.50" stroke="#333" stroke-width="0.8" />
<line x1="569.10" y1="116.30" x2="574.60" y2="111.30" stroke="#333" stroke-width="0.8" />
<line x1="579.10" y1="114.60" x2="591.60" y2="102.00" stroke="#333" stroke-width="0.8" />
<line x1="630.00" y1="76.30" x2="643.80" y2="62.50" stroke="#333" stroke-width="0.8" />
<line x1="636.30" y1="81.30" x2="641.80" y2="76.30" stroke="#333" stroke-width="0.8" />
<line x1="646.30" y1="79.60" x2="658.80" y2="67.00" stroke="#333" stroke-width="0.8" />
<line x1="630.00" y1="111.30" x2="643.80" y2="97.50" stroke="#333" stroke-width="0.8" />
<line x1="636.30" y1="116.30" x2="641.80" y2="111.30" stroke="#333" stroke-width="0.8" />
<line x1="646.30" y1="114.60" x2="658.80" y2="102.00" stroke="#333" stroke-width="0.8" />
<line x1="496.00" y1="147.80" x2="509.80" y2="134.00" stroke="#333" stroke-width="0.8" />
<line x1="502.30" y1="152.80" x2="507.80" y2="147.80" stroke="#333" stroke-width="0.8" />
<line x1="512.30" y1="151.10" x2="524.80" y2="138.50" stroke="#333" stroke-width="0.8" />
<line x1="422.50" y1="31.30" x2="682.00" y2="31.30" stroke="#333" stroke-width="0.85" />
<line x1="422.50" y1="33.30" x2="556.00" y2="33.30" stroke="#333" stroke-width="0.85" />
<line x1="422.50" y1="43.70" x2="556.00" y2="43.70" stroke="#333" stroke-width="0.85" />
<line x1="422.50" y1="46.00" x2="669.00" y2="46.00" stroke="#333" stroke-width="0.85" />
<rect x="424.50" y="35.80" width="129.50" height="4.50" stroke="#333" stroke-width="0.85" fill="none"/>
<rect x="556.00" y="30.00" width="47.00" height="19.00" stroke="#1a1a1a" stroke-width="1.4" fill="none"/>
<rect x="606.00" y="34.00" width="46.00" height="10.50" stroke="#888" stroke-width="0.85" fill="none" stroke-dasharray="1,1"/>
<line x1="682.00" y1="31.30" x2="682.00" y2="128.60" stroke="#333" stroke-width="0.85" />
<line x1="669.00" y1="46.00" x2="669.00" y2="139.00" stroke="#333" stroke-width="0.85" />
<rect x="669.00" y="64.00" width="10.00" height="64.00" stroke="#999" stroke-width="0.85" fill="none" stroke-dasharray="1,1"/>
<rect x="375.00" y="30.30" width="47.50" height="19.40" stroke="#1a1a1a" stroke-width="1.5" fill="none"/>
<rect x="378.00" y="35.80" width="5.70" height="5.90" stroke="#6a6a9a" stroke-width="0.8" fill="#dde"/>
<line x1="379.00" y1="40.70" x2="382.70" y2="36.80" stroke="#6a6a9a" stroke-width="0.6" />
<rect x="385.30" y="49.70" width="23.40" height="24.50" stroke="#777" stroke-width="0.85" fill="none"/>
<text x="386.30" y="63.70" font-size="6.3" fill="#111" stroke="#111" stroke-width="0.32" textLength="20.90" lengthAdjust="spacingAndGlyphs">SHOWER</text>
<rect x="457.00" y="127.00" width="5.00" height="5.00" stroke="#777" stroke-width="0.7" fill="none"/>
<rect x="553.20" y="130.30" width="144.30" height="94.30" stroke="#777" stroke-width="0.85" fill="none" stroke-dasharray="1,1"/>
<path d="M561.4,182 L561.4,215.8 L688.3,215.8 L688.3,139.3 L663,139.3" stroke="#1a1a1a" stroke-width="1.6" fill="none"/>
<line x1="561.40" y1="138.20" x2="663.00" y2="138.20" stroke="#444" stroke-width="0.7" />
<line x1="562.90" y1="140.00" x2="663.00" y2="140.00" stroke="#666" stroke-width="0.7" />
<line x1="561.40" y1="138.20" x2="561.40" y2="182.00" stroke="#444" stroke-width="0.7" />
<line x1="562.90" y1="140.00" x2="562.90" y2="182.00" stroke="#666" stroke-width="0.7" />
<polyline points="561.40,181.00 564.30,181.30 569.60,192.00 569.60,208.50 674.00,208.30 674.00,201.40 681.40,201.40 681.40,154.30 674.60,154.30 674.60,146.80 663.80,146.80 663.80,138.00" stroke="#1a1a1a" stroke-width="1.4" fill="none" stroke-linejoin="miter"/>
<rect x="610.70" y="139.70" width="7.50" height="7.50" stroke="#1a1a1a" stroke-width="1.0" fill="none"/>
<line x1="612.00" y1="146.00" x2="617.00" y2="141.00" stroke="#333" stroke-width="0.7" />
<path d="M565,197.1 H569.6 M565,200.4 H569.6 M567.3,197.1 V200.4" stroke="#000" stroke-width="1.2" fill="none"/>
<polyline points="688.30,207.80 695.30,207.80 695.30,394.30 688.00,394.30" stroke="#333" stroke-width="0.85" fill="none" stroke-linejoin="miter"/>
<rect x="553.20" y="378.60" width="144.60" height="86.40" stroke="#888" stroke-width="0.85" fill="none" stroke-dasharray="2,1.2"/>
<rect x="561.80" y="387.40" width="15.60" height="19.10" stroke="#1a1a1a" stroke-width="1.6" fill="none"/>
<line x1="577.40" y1="387.40" x2="618.60" y2="387.40" stroke="#1a1a1a" stroke-width="1.2" />
<line x1="577.40" y1="391.70" x2="618.60" y2="391.70" stroke="#333" stroke-width="0.85" />
<path d="M618.6,402.9 L618.6,387.4 L688.2,387.4 L688.2,458.6 L609,458.6" stroke="#1a1a1a" stroke-width="1.6" fill="none"/>
<rect x="623.30" y="391.70" width="51.00" height="9.70" stroke="#1a1a1a" stroke-width="1.5" fill="none"/>
<defs><pattern id="hat" width="2.5" height="2.5" patternUnits="userSpaceOnUse"><rect width="2.5" height="2.5" fill="#f4f4f4"/><rect width="0.9" height="0.9" fill="#888"/></pattern><pattern id="hat2" width="1.6" height="1.6" patternUnits="userSpaceOnUse"><rect width="1.6" height="1.6" fill="#ddd"/><rect width="0.8" height="0.8" fill="#777"/></pattern></defs>
<rect x="618.60" y="402.90" width="57.60" height="5.30" stroke="#555" stroke-width="0.6" fill="url(#hat)"/>
<rect x="671.20" y="402.90" width="5.00" height="54.20" stroke="#555" stroke-width="0.6" fill="url(#hat)"/>
<rect x="619.60" y="452.10" width="56.60" height="5.00" stroke="#555" stroke-width="0.6" fill="url(#hat)"/>
<line x1="619.50" y1="408.20" x2="671.20" y2="408.20" stroke="#111" stroke-width="1.3" />
<line x1="619.50" y1="451.60" x2="671.20" y2="451.60" stroke="#111" stroke-width="1.3" />
<line x1="670.60" y1="408.20" x2="670.60" y2="452.10" stroke="#111" stroke-width="1.3" />
<line x1="619.30" y1="402.90" x2="619.30" y2="443.50" stroke="#222" stroke-width="1.0" />
<line x1="633.60" y1="410.00" x2="660.30" y2="410.00" stroke="#777" stroke-width="0.6" />
<line x1="633.60" y1="450.00" x2="660.30" y2="450.00" stroke="#777" stroke-width="0.6" />
<text x="570.40" y="428.60" font-size="6.3" fill="#111" stroke="#111" stroke-width="0.32" textLength="22.50" lengthAdjust="spacingAndGlyphs">HALLWAY</text>
<text x="631.00" y="426.90" font-size="6.3" fill="#111" stroke="#111" stroke-width="0.32" textLength="23.60" lengthAdjust="spacingAndGlyphs">ELEVATOR</text>
<polyline points="620.00,452.00 620.00,443.40 618.10,443.40 608.60,457.60 609.00,458.60" stroke="#1a1a1a" stroke-width="1.6" fill="none" stroke-linejoin="miter"/>
<rect x="604.40" y="458.70" width="65.60" height="26.80" stroke="#333" stroke-width="0.85" fill="none"/>
<rect x="604.40" y="455.50" width="3.90" height="3.20" stroke="#666" stroke-width="0.6" fill="none"/>
<polyline points="609.60,468.20 607.00,472.00 609.60,476.00" stroke="#666" stroke-width="0.6" fill="none" stroke-linejoin="miter"/>
<line x1="607.00" y1="472.00" x2="620.00" y2="472.00" stroke="#888" stroke-width="0.6" />
<line x1="604.50" y1="459.50" x2="670.20" y2="459.50" stroke="#1a1a1a" stroke-width="1.5" />
<line x1="613.60" y1="458.70" x2="613.60" y2="485.50" stroke="#333" stroke-width="0.85" />
<line x1="621.80" y1="458.70" x2="621.80" y2="485.50" stroke="#333" stroke-width="0.85" />
<line x1="630.90" y1="458.70" x2="630.90" y2="485.50" stroke="#333" stroke-width="0.85" />
<line x1="639.50" y1="458.70" x2="639.50" y2="485.50" stroke="#333" stroke-width="0.85" />
<line x1="583.00" y1="485.50" x2="608.00" y2="485.50" stroke="#333" stroke-width="0.85" />
<line x1="670.20" y1="458.60" x2="670.20" y2="552.00" stroke="#1a1a1a" stroke-width="1.8" />
<line x1="680.70" y1="458.60" x2="680.70" y2="485.20" stroke="#333" stroke-width="0.85" />
<path d="M648.9,485.2 A19.4,19.4 0 0 1 668.3,465.8" stroke="#222" stroke-width="0.9" fill="none"/>
<text x="601.80" y="466.20" font-size="5.0" text-anchor="middle" fill="#333">20</text>
<text x="609.60" y="466.20" font-size="5.0" text-anchor="middle" fill="#333">19</text>
<text x="618.20" y="466.20" font-size="5.0" text-anchor="middle" fill="#333">18</text>
<text x="627.30" y="466.20" font-size="5.0" text-anchor="middle" fill="#333">17</text>
<text x="635.80" y="466.20" font-size="5.0" text-anchor="middle" fill="#333">16</text>
<text x="619.80" y="471.90" font-size="6.3" fill="#111" stroke="#111" stroke-width="0.32" textLength="28.00" lengthAdjust="spacingAndGlyphs">STAIRSCASE</text>
<rect x="583.00" y="485.20" width="99.00" height="74.90" stroke="#333" stroke-width="0.85" fill="none"/>
<rect x="607.80" y="485.80" width="63.40" height="66.10" stroke="#1a1a1a" stroke-width="1.8" fill="none"/>
<rect x="616.00" y="494.80" width="22.80" height="22.80" stroke="#666" stroke-width="0.9" fill="none"/>
<rect x="617.50" y="496.30" width="19.80" height="19.80" stroke="#888" stroke-width="0.6" fill="none"/>
<line x1="638.80" y1="494.80" x2="671.00" y2="494.80" stroke="#333" stroke-width="0.85" />
<line x1="638.80" y1="502.40" x2="671.00" y2="502.40" stroke="#333" stroke-width="0.85" />
<line x1="638.80" y1="510.60" x2="671.00" y2="510.60" stroke="#333" stroke-width="0.85" />
<line x1="638.80" y1="518.60" x2="671.00" y2="518.60" stroke="#333" stroke-width="0.85" />
<line x1="607.80" y1="527.10" x2="670.00" y2="527.10" stroke="#999" stroke-width="0.6" />
<line x1="607.80" y1="502.00" x2="616.00" y2="502.00" stroke="#333" stroke-width="0.85" />
<line x1="607.80" y1="510.00" x2="616.00" y2="510.00" stroke="#333" stroke-width="0.85" />
<line x1="607.80" y1="518.00" x2="616.00" y2="518.00" stroke="#333" stroke-width="0.85" />
<line x1="616.00" y1="517.60" x2="616.00" y2="551.90" stroke="#333" stroke-width="0.85" />
<line x1="623.60" y1="517.60" x2="623.60" y2="551.90" stroke="#333" stroke-width="0.85" />
<line x1="631.60" y1="517.60" x2="631.60" y2="551.90" stroke="#333" stroke-width="0.85" />
<line x1="639.80" y1="517.60" x2="639.80" y2="551.90" stroke="#333" stroke-width="0.85" />
<line x1="638.80" y1="517.60" x2="670.00" y2="551.00" stroke="#333" stroke-width="0.85" />
<line x1="616.00" y1="517.60" x2="607.80" y2="526.00" stroke="#333" stroke-width="0.85" />
<line x1="638.80" y1="490.00" x2="638.80" y2="517.00" stroke="#1a1a1a" stroke-width="1.4" />
<line x1="650.80" y1="485.20" x2="650.80" y2="527.00" stroke="#999" stroke-width="0.6" />
<polyline points="647.00,500.00 650.80,496.50 654.60,500.00" stroke="#888" stroke-width="0.6" fill="none" stroke-linejoin="miter"/>
<text x="618.80" y="508.10" font-size="6.3" fill="#111" stroke="#111" stroke-width="0.32" textLength="28.00" lengthAdjust="spacingAndGlyphs">STAIRSCASE</text>
<text x="667.50" y="493.50" font-size="5.0" text-anchor="middle" fill="#333">15</text>
<text x="667.50" y="501.50" font-size="5.0" text-anchor="middle" fill="#333">14</text>
<text x="667.50" y="509.50" font-size="5.0" text-anchor="middle" fill="#333">13</text>
<text x="667.50" y="518.00" font-size="5.0" text-anchor="middle" fill="#333">12</text>
<text x="667.50" y="545.00" font-size="5.0" text-anchor="middle" fill="#333">11</text>
<text x="618.50" y="550.50" font-size="4.6" text-anchor="middle" fill="#333">7</text>
<text x="626.50" y="550.50" font-size="4.6" text-anchor="middle" fill="#333">8</text>
<text x="634.50" y="550.50" font-size="4.6" text-anchor="middle" fill="#333">9</text>
<text x="643.00" y="550.50" font-size="4.6" text-anchor="middle" fill="#333">10</text>
<rect x="404.20" y="449.70" width="106.10" height="34.20" stroke="#444" stroke-width="1.0" fill="none"/>
<rect x="413.20" y="452.60" width="26.80" height="17.90" stroke="#444" stroke-width="1.0" fill="none"/>
<rect x="468.70" y="452.60" width="12.20" height="12.00" stroke="#444" stroke-width="1.0" fill="none"/>
<circle cx="474.90" cy="466.30" r="0.90" stroke="#333" stroke-width="0.7" fill="none"/>
<circle cx="413.60" cy="490.60" r="5.00" stroke="#111" stroke-width="1.1" fill="none"/>
<ellipse cx="413.6" cy="496.6" rx="5.2" ry="1.5" fill="#888" stroke="#333" stroke-width="0.7"/>
<circle cx="413.60" cy="490.60" r="5.00" stroke="#111" stroke-width="1.1" fill="#fff"/>
<circle cx="434.00" cy="490.60" r="5.00" stroke="#111" stroke-width="1.1" fill="none"/>
<ellipse cx="434" cy="496.6" rx="5.2" ry="1.5" fill="#888" stroke="#333" stroke-width="0.7"/>
<circle cx="434.00" cy="490.60" r="5.00" stroke="#111" stroke-width="1.1" fill="#fff"/>
<circle cx="454.10" cy="490.60" r="5.00" stroke="#111" stroke-width="1.1" fill="none"/>
<ellipse cx="454.1" cy="496.6" rx="5.2" ry="1.5" fill="#888" stroke="#333" stroke-width="0.7"/>
<circle cx="454.10" cy="490.60" r="5.00" stroke="#111" stroke-width="1.1" fill="#fff"/>
<circle cx="473.90" cy="490.60" r="5.00" stroke="#111" stroke-width="1.1" fill="none"/>
<ellipse cx="473.9" cy="496.6" rx="5.2" ry="1.5" fill="#888" stroke="#333" stroke-width="0.7"/>
<circle cx="473.90" cy="490.60" r="5.00" stroke="#111" stroke-width="1.1" fill="#fff"/>
<polygon points="375.00,571.70 386.40,571.70 386.40,546.40 422.10,546.40 422.10,588.80 375.00,588.80" stroke="#1a1a1a" stroke-width="1.6" fill="none" stroke-linejoin="miter"/>
<polyline points="392.60,546.40 392.60,578.30 412.00,578.30 412.00,546.40" stroke="#1a1a1a" stroke-width="1.6" fill="none" stroke-linejoin="miter"/>
<line x1="394.00" y1="547.60" x2="410.50" y2="547.60" stroke="#777" stroke-width="0.6" />
<line x1="386.40" y1="571.20" x2="422.00" y2="571.20" stroke="#777" stroke-width="0.7" />
<rect x="377.40" y="579.30" width="6.20" height="6.20" stroke="#6a6a9a" stroke-width="0.8" fill="#dde"/>
<line x1="378.50" y1="584.50" x2="382.50" y2="580.30" stroke="#6a6a9a" stroke-width="0.6" />
<line x1="373.60" y1="569.30" x2="373.60" y2="603.00" stroke="#333" stroke-width="0.85" />
<line x1="422.00" y1="562.60" x2="553.00" y2="562.60" stroke="#333" stroke-width="0.85" />
<line x1="421.00" y1="574.50" x2="553.00" y2="574.50" stroke="#333" stroke-width="0.85" stroke-dasharray="2,1.2" />
<rect x="424.50" y="566.40" width="126.00" height="3.80" stroke="#333" stroke-width="0.85" fill="none"/>
<polygon points="553.00,557.00 579.00,557.00 564.00,602.00 553.00,602.00" stroke="#1a1a1a" stroke-width="1.6" fill="none" stroke-linejoin="miter"/>
<line x1="579.00" y1="557.00" x2="583.00" y2="557.00" stroke="#333" stroke-width="0.85" />
<rect x="553.80" y="557.10" width="5.20" height="7.90" stroke="#999" stroke-width="0.6" fill="none"/>
<line x1="583.00" y1="485.20" x2="583.00" y2="559.50" stroke="#333" stroke-width="0.85" />
<line x1="714.70" y1="126.70" x2="714.70" y2="620.00" stroke="#555" stroke-width="0.9" stroke-dasharray="2.2,1.3" />
<rect x="715.00" y="127.00" width="4.00" height="37.20" stroke="#777" stroke-width="0.6" fill="none"/>
<line x1="715.00" y1="128.30" x2="840.00" y2="128.30" stroke="#333" stroke-width="0.85" />
<line x1="720.00" y1="130.80" x2="840.00" y2="130.80" stroke="#333" stroke-width="1.2" />
<line x1="720.00" y1="130.80" x2="720.00" y2="224.30" stroke="#333" stroke-width="1.2" />
<line x1="720.00" y1="224.30" x2="840.00" y2="224.30" stroke="#333" stroke-width="1.2" />
<line x1="732.20" y1="127.00" x2="732.20" y2="140.00" stroke="#555" stroke-width="0.7" />
<line x1="739.50" y1="127.00" x2="739.50" y2="140.00" stroke="#555" stroke-width="0.7" />
<rect x="780.80" y="130.80" width="19.20" height="5.00" stroke="#888" stroke-width="0.6" fill="none" stroke-dasharray="1,1"/>
<rect x="811.70" y="130.80" width="19.10" height="5.00" stroke="#888" stroke-width="0.6" fill="none" stroke-dasharray="1,1"/>
<polyline points="840.00,140.00 832.50,140.00 832.50,138.30 727.50,138.30 727.50,181.70 735.80,190.00 735.80,208.30 746.70,208.30 746.70,213.30 830.80,213.30 830.80,208.30 840.00,208.30" stroke="#333" stroke-width="1.0" fill="none" stroke-linejoin="miter"/>
<polyline points="840.00,146.70 830.00,146.70 830.00,140.00 730.00,140.00 730.00,178.30" stroke="#555" stroke-width="0.7" fill="none" stroke-linejoin="miter"/>
<line x1="729.50" y1="181.00" x2="729.50" y2="216.00" stroke="#333" stroke-width="0.85" />
<line x1="729.50" y1="216.00" x2="840.00" y2="216.00" stroke="#333" stroke-width="0.85" />
<line x1="730.80" y1="141.70" x2="773.30" y2="169.20" stroke="#777" stroke-width="0.6" />
<line x1="800.00" y1="169.20" x2="830.80" y2="147.50" stroke="#777" stroke-width="0.6" />
<line x1="748.30" y1="209.20" x2="775.80" y2="188.30" stroke="#777" stroke-width="0.6" />
<line x1="800.80" y1="188.30" x2="830.80" y2="208.30" stroke="#777" stroke-width="0.6" />
<line x1="715.00" y1="196.70" x2="729.00" y2="196.70" stroke="#555" stroke-width="0.6" />
<line x1="715.00" y1="200.00" x2="729.00" y2="200.00" stroke="#555" stroke-width="0.6" />
<line x1="715.00" y1="203.30" x2="729.00" y2="203.30" stroke="#555" stroke-width="0.6" />
<line x1="715.00" y1="207.50" x2="729.00" y2="207.50" stroke="#555" stroke-width="0.6" />
<line x1="715.00" y1="211.70" x2="729.00" y2="211.70" stroke="#555" stroke-width="0.6" />
<line x1="740.00" y1="216.00" x2="715.00" y2="242.00" stroke="#444" stroke-width="0.8" stroke-dasharray="3,1.8" />
<line x1="741.70" y1="216.00" x2="741.70" y2="386.70" stroke="#333" stroke-width="0.85" />
<line x1="743.30" y1="216.00" x2="743.30" y2="378.30" stroke="#999" stroke-width="0.6" stroke-dasharray="1,1" />
<line x1="776.80" y1="216.00" x2="776.80" y2="378.30" stroke="#777" stroke-width="0.8" stroke-dasharray="2,1.2" />
<line x1="720.30" y1="378.30" x2="840.00" y2="378.30" stroke="#222" stroke-width="1.3" />
<line x1="720.30" y1="378.30" x2="720.30" y2="464.70" stroke="#222" stroke-width="1.3" />
<line x1="720.30" y1="464.70" x2="840.00" y2="464.70" stroke="#222" stroke-width="1.3" />
<rect x="729.20" y="386.70" width="15.50" height="20.00" stroke="#888" stroke-width="0.7" fill="none" stroke-dasharray="1,1"/>
<line x1="744.70" y1="386.70" x2="840.00" y2="386.70" stroke="#888" stroke-width="0.7" stroke-dasharray="1,1" />
<rect x="745.00" y="388.70" width="40.00" height="3.00" stroke="#888" stroke-width="0.7" fill="none" stroke-dasharray="1,1"/>
<line x1="785.50" y1="386.70" x2="785.50" y2="441.70" stroke="#888" stroke-width="0.7" stroke-dasharray="1,1" />
<line x1="785.50" y1="441.70" x2="775.00" y2="457.50" stroke="#666" stroke-width="0.7" />
<rect x="785.00" y="401.70" width="55.00" height="6.30" stroke="#777" stroke-width="0.5" fill="url(#hat2)"/>
<rect x="836.50" y="401.70" width="4.50" height="55.80" stroke="#777" stroke-width="0.5" fill="url(#hat2)"/>
<rect x="785.00" y="451.30" width="55.00" height="6.20" stroke="#777" stroke-width="0.5" fill="url(#hat2)"/>
<line x1="773.30" y1="460.00" x2="840.00" y2="460.00" stroke="#888" stroke-width="1.5" stroke-dasharray="1,0.6" />
<line x1="715.00" y1="390.80" x2="720.00" y2="390.80" stroke="#444" stroke-width="0.8" />
<line x1="715.00" y1="395.00" x2="720.00" y2="395.00" stroke="#444" stroke-width="0.8" />
<line x1="715.00" y1="399.70" x2="720.00" y2="399.70" stroke="#444" stroke-width="0.8" />
<line x1="715.00" y1="403.30" x2="720.00" y2="403.30" stroke="#444" stroke-width="0.8" />
<line x1="715.00" y1="406.30" x2="720.00" y2="406.30" stroke="#444" stroke-width="0.8" />
<line x1="729.70" y1="464.70" x2="729.70" y2="551.30" stroke="#777" stroke-width="0.85" />
<line x1="838.50" y1="464.70" x2="838.50" y2="485.20" stroke="#1a1a1a" stroke-width="1.6" />
<path d="M714.5,521.3 A16.4,15.4 0 0 1 714.5,552" stroke="#777" stroke-width="0.8" fill="none"/>
<path d="M714.5,523.5 A14.2,13.3 0 0 1 714.5,550" stroke="#888" stroke-width="0.8" fill="none"/>
<rect x="720.30" y="550.80" width="18.30" height="53.30" stroke="#444" stroke-width="0.8" fill="none"/>
<rect x="723.40" y="554.70" width="13.10" height="45.60" stroke="#444" stroke-width="0.8" fill="#eee"/>
<polyline points="738.60,557.70 747.00,557.70 738.60,581.80" stroke="#444" stroke-width="0.7" fill="none" stroke-linejoin="miter"/>
<rect x="714.50" y="562.70" width="5.80" height="11.50" stroke="#555" stroke-width="0.6" fill="none"/>
<text x="722.80" y="618.20" font-size="6.0" fill="#222" stroke="#222" stroke-width="0.18" textLength="27.40" lengthAdjust="spacingAndGlyphs">VUELO MÁX.</text>
<line x1="747.00" y1="560.20" x2="840.00" y2="560.20" stroke="#333" stroke-width="0.85" />
<line x1="749.50" y1="485.20" x2="749.50" y2="560.20" stroke="#333" stroke-width="0.85" />
<line x1="749.50" y1="485.20" x2="840.00" y2="485.20" stroke="#333" stroke-width="0.85" />
<rect x="774.20" y="485.20" width="65.50" height="67.40" stroke="#333" stroke-width="0.85" fill="none"/>
<line x1="776.00" y1="485.20" x2="815.60" y2="485.20" stroke="#1a1a1a" stroke-width="1.4" />
</svg>
</body></html>
